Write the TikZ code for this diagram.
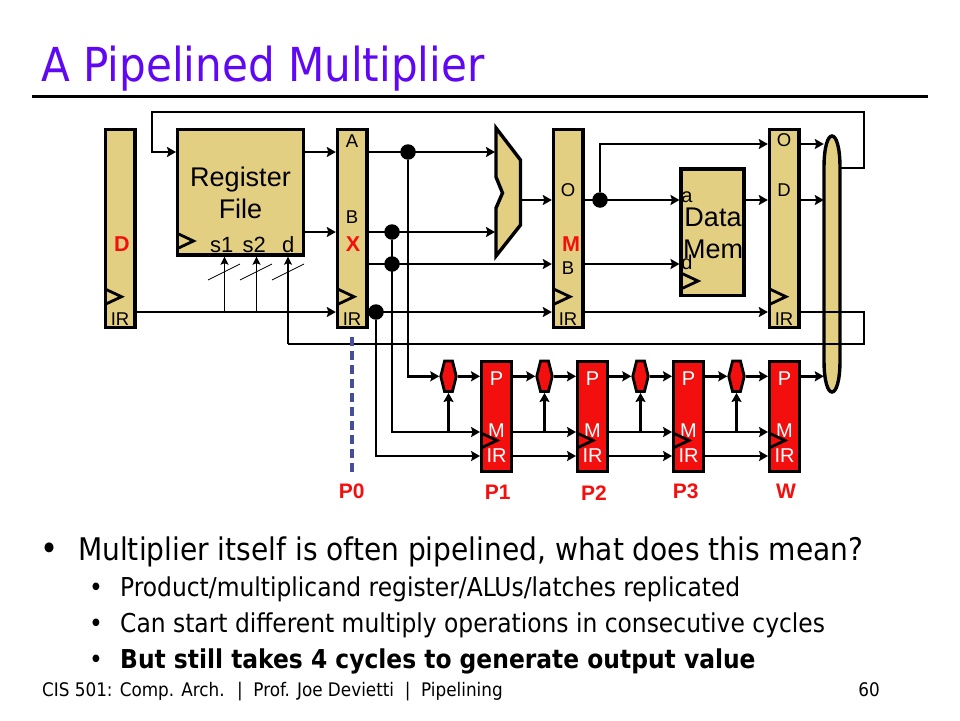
\documentclass[tikz,border=0pt]{standalone}
\usepackage{fontspec}
\setmainfont{Liberation Sans}
\newfontfamily\slidefont{DejaVu Sans Condensed}
\usepackage{xcolor}
\usetikzlibrary{arrows.meta,shapes.symbols}
\definecolor{latchtan}{HTML}{E3CF82}
\definecolor{multred}{HTML}{F40F0F}
\definecolor{titleblue}{HTML}{6008F4}
\definecolor{stagedash}{HTML}{454E96}
\tikzset{
  latch/.style={draw=black,fill=latchtan,line width=3.4pt,inner sep=0pt,
                minimum width=29.5pt,minimum height=197.5pt},
  multlatch/.style={draw=black,fill=multred,line width=3.4pt,inner sep=0pt,
                minimum width=29.5pt,minimum height=110pt},
  block/.style={draw=black,fill=latchtan,line width=3.4pt,inner sep=0pt,align=center},
  hexlatch/.style={signal,signal to=east and west,signal from=nowhere,signal pointer angle=152,
                draw=black,fill=multred,line width=2.8pt,inner sep=0pt,
                minimum width=15.5pt,minimum height=30.5pt},
  wire/.style={line width=2.9pt,-{Stealth[length=9pt,width=10pt,inset=1.5pt]}},
  plainwire/.style={line width=2.9pt},
  thinwire/.style={line width=1.4pt,-{Stealth[length=8pt,width=8pt,inset=1.5pt]}},
  tick/.style={line width=0.7pt},
  junction/.style={circle,fill=black,inner sep=0pt,minimum size=15.5pt},
  clockmark/.style={draw=black,line width=2.8pt,line join=miter},
  tag/.style={font=\fontsize{18.5}{18.5}\selectfont,inner sep=0pt},
  whitetag/.style={font=\fontsize{20}{20}\selectfont,text=white,inner sep=0pt},
  stagetag/.style={font=\fontsize{21}{21}\selectfont\bfseries,text=multred,inner sep=0pt},
  redtag/.style={font=\fontsize{21.5}{21.5}\selectfont\bfseries,text=multred,inner sep=0pt},
  bodytext/.style={anchor=base west,inner sep=0pt,font=\slidefont\fontsize{26}{26}\selectfont}
}
\begin{document}
\begin{tikzpicture}[x=1pt,y=-1pt]
    \path[use as bounding box,fill=white] (0,0) rectangle (960,720);

    % title and rule
    \node[anchor=base west,inner sep=0pt,text=titleblue,font=\slidefont\fontsize{46.8}{46.8}\selectfont]
      (title) at (41,81.5) {A Pipelined Multiplier};
    \coordinate (ruleL) at (32,96);
    \coordinate (ruleR) at (928,96);
    \draw[line width=3pt] (ruleL) -- (ruleR);

    % write back bus goes behind the wires
    \node[inner sep=0pt,minimum width=16pt,minimum height=256pt] (wbbus) at (832,264) {};
    \draw[block] (824,168) .. controls (824,146) and (828,136) .. (832,136)
      .. controls (836,136) and (840,146) .. (840,168) -- (840,360)
      .. controls (840,382) and (836,392) .. (832,392)
      .. controls (828,392) and (824,382) .. (824,360) -- cycle;

    % main pipeline
    \node[latch] (dlatch) at (120.3,228.5) {};
    \node[block,minimum width=125.6pt,minimum height=125.6pt] (regfile) at (240.5,192.2) {};
    \node[latch] (xlatch) at (352.3,228.5) {};
    \node[latch] (mlatch) at (568.3,228.5) {};
    \node[block,minimum width=63pt,minimum height=126.6pt] (dmem) at (712.5,232.3) {};
    \node[latch] (wlatch) at (784.3,228.5) {};
    \draw[block] (496,128) -- (520.5,160) -- (520.5,225) -- (496,256) -- (496,208)
      -- (502.5,193) -- (496,177) -- cycle;

    % multiplier stages
    \foreach \name/\px in {pa/496.5,pb/592.5,pc/688.5,pd/784.5}{
      \node[multlatch] (\name) at (\px,416.3) {};
      \node[whitetag] at (\px,378.7) {P};
      \node[whitetag] at (\px,430.5) {M};
      \node[whitetag] at (\px,456) {IR};
    }
    \foreach \name/\px in {ha/448.5,hb/544.5,hc/640.5,hd/736.5}{
      \node[hexlatch] (\name) at (\px,376.3) {};
    }

    % clock marks
    \foreach \px/\py in {105.5/296.7,338/296.7,554/296.7,770/296.7,177.5/241,682/281,
                         481/440.5,577/440.5,673/440.5,769/440.5}{
      \draw[clockmark] (\px,\py-7.5) -- (\px+16,\py) -- (\px,\py+7.5);
    }

    % junctions
    \node[junction] (ja) at (408,152) {};
    \node[junction] (jb) at (392,232) {};
    \node[junction] (jc) at (392,264) {};
    \node[junction] (jd) at (376,312) {};
    \node[junction] (je) at (600,200) {};

    % ports and rows
    \coordinate (muxA) at (495,152);
    \coordinate (muxB) at (495,232);
    \coordinate (muxO) at (520.5,200);
    \coordinate (memA) at (679.5,200);
    \coordinate (memD) at (679.5,264);
    \coordinate (memO) at (745,200);
    \coordinate (fbTop) at (152,112);
    \coordinate (fbEnd) at (864,168);
    \coordinate (rowO) at (0,144);
    \coordinate (rowT) at (0,344);
    \coordinate (rowM) at (0,432);
    \coordinate (rowI) at (0,456);
    \coordinate (turnD) at (288,344);
    \coordinate (regS) at (224.5,312);
    \coordinate (regT) at (256.5,312);

    % wires of the main pipeline
    \draw[wire] (wbbus.east |- fbEnd) -- (fbEnd) -- (fbTop -| fbEnd) -- (fbTop)
      -- (fbTop |- muxA) -- (regfile.west |- muxA);
    \draw[wire] (regfile.east |- muxA) -- (xlatch.west |- muxA);
    \draw[wire] (regfile.east |- muxB) -- (xlatch.west |- muxB);
    \draw[wire] (xlatch.east |- muxA) -- (muxA);
    \draw[wire] (xlatch.east |- muxB) -- (muxB);
    \draw[wire] (xlatch.east |- jc) -- (mlatch.west |- jc);
    \draw[wire] (muxO) -- (mlatch.west |- muxO);
    \draw[wire] (mlatch.east |- muxO) -- (memA);
    \draw[wire] (mlatch.east |- memD) -- (memD);
    \draw[wire] (je) -- (je |- rowO) -- (wlatch.west |- rowO);
    \draw[wire] (memO) -- (wlatch.west |- memO);
    \draw[wire] (wlatch.east |- rowO) -- (wbbus.west |- rowO);
    \draw[wire] (wlatch.east |- memO) -- (wbbus.west |- memO);
    \draw[wire] (dlatch.east |- jd) -- (xlatch.west |- jd);
    \draw[wire] (xlatch.east |- jd) -- (mlatch.west |- jd);
    \draw[wire] (mlatch.east |- jd) -- (wlatch.west |- jd);
    \draw[plainwire] (wlatch.east |- jd) -- (fbEnd |- jd) -- (fbEnd |- rowT) -- (turnD);
    \draw[thinwire] (turnD) -- (turnD |- regfile.south);
    \draw[thinwire] (regS) -- (regS |- regfile.south);
    \draw[thinwire] (regT) -- (regT |- regfile.south);
    \foreach \px in {208,240,272}{
      \draw[tick] (\px,280) -- (\px+32,264);
    }

    % wires into the multiplier
    \draw[wire] (ja) -- (ja |- ha) -- (ha.west);
    \draw[wire] (jb) -- (jb |- rowM) -- (pa.west |- rowM);
    \draw[wire] (jd) -- (jd |- rowI) -- (pa.west |- rowI);
    \draw[wire] (ha.east) -- (pa.west |- ha);
    \draw[wire] (pa.east |- hb) -- (hb.west);
    \draw[wire] (hb.east) -- (pb.west |- hb);
    \draw[wire] (pb.east |- hc) -- (hc.west);
    \draw[wire] (hc.east) -- (pc.west |- hc);
    \draw[wire] (pc.east |- hd) -- (hd.west);
    \draw[wire] (hd.east) -- (pd.west |- hd);
    \draw[wire] (pd.east |- hd) -- (wbbus.west |- hd);
    \foreach \from/\to/\hex in {pa/pb/hb,pb/pc/hc,pc/pd/hd}{
      \draw[wire] (\from.east |- rowM) -- (\to.west |- rowM);
      \draw[wire] (\from.east |- rowI) -- (\to.west |- rowI);
      \draw[wire] (\hex |- rowM) -- (\hex.south);
    }
    \draw[wire] (ha |- rowM) -- (ha.south);

    % stage boundary
    \node[stagetag] (pzero) at (351.7,491.7) {P0};
    \coordinate (dashTop) at (352,337);
    \coordinate (dashEnd) at (352,472);
    \draw[line width=4pt,color=stagedash,dash pattern=on 9pt off 5pt] (dashTop) -- (dashEnd);

    % labels
    \node[font=\fontsize{27}{32}\selectfont,align=center,inner sep=0pt] at (240.5,193) {Register\\File};
    \node[font=\fontsize{22}{22}\selectfont,inner sep=0pt] at (221.7,245) {s1};
    \node[font=\fontsize{22}{22}\selectfont,inner sep=0pt] at (254.3,245) {s2};
    \node[font=\fontsize{22}{22}\selectfont,inner sep=0pt] at (288.3,245) {d};
    \node[redtag] at (122,244.5) {D};
    \node[redtag] at (353,244.5) {X};
    \node[redtag] at (571,244.5) {M};
    \foreach \px/\py/\txt in {120/319/IR,352/319/IR,568/319/IR,784/319/IR,352/141/A,352/217/B,
                              568/190/O,568/268/B,784/140/O,784/190/D}{
      \node[tag] at (\px,\py) {\txt};
    }
    \node[font=\fontsize{27}{32}\selectfont,align=center,inner sep=0pt] at (713,233) {Data\\Mem};
    \node[font=\fontsize{20}{20}\selectfont,inner sep=0pt] at (687,197.7) {a};
    \node[font=\fontsize{20}{20}\selectfont,inner sep=0pt] at (687,262.7) {d};
    \node[stagetag] at (497.7,492.7) {P1};
    \node[stagetag] at (594,492.7) {P2};
    \node[stagetag] at (685.7,491.7) {P3};
    \node[stagetag] at (786,491.7) {W};

    % bullets
    \node[bodytext,font=\slidefont\fontsize{34}{34}\selectfont] at (40,560) {•};
    \node[bodytext,font=\slidefont\fontsize{31.2}{31.2}\selectfont] at (78,560.5)
      {Multiplier itself is often pipelined, what does this mean?};
    \node[bodytext] at (89,596.5) {•};
    \node[bodytext] at (120,596.5) {Product/multiplicand register/ALUs/latches replicated};
    \node[bodytext] at (89,632) {•};
    \node[bodytext] at (120,632) {Can start different multiply operations in consecutive cycles};
    \node[bodytext] at (89,668) {•};
    \node[bodytext,font=\slidefont\fontsize{26}{26}\selectfont\bfseries] at (120,668)
      {But still takes 4 cycles to generate output value};

    % footer
    \node[anchor=base west,inner sep=0pt,font=\slidefont\fontsize{18.7}{18.7}\selectfont] at (42,696)
      {CIS 501: Comp. Arch. \ | \ Prof. Joe Devietti \ | \ Pipelining};
    \node[anchor=base east,inner sep=0pt,font=\slidefont\fontsize{18.7}{18.7}\selectfont] at (880,696) {60};
\end{tikzpicture}
\end{document}
